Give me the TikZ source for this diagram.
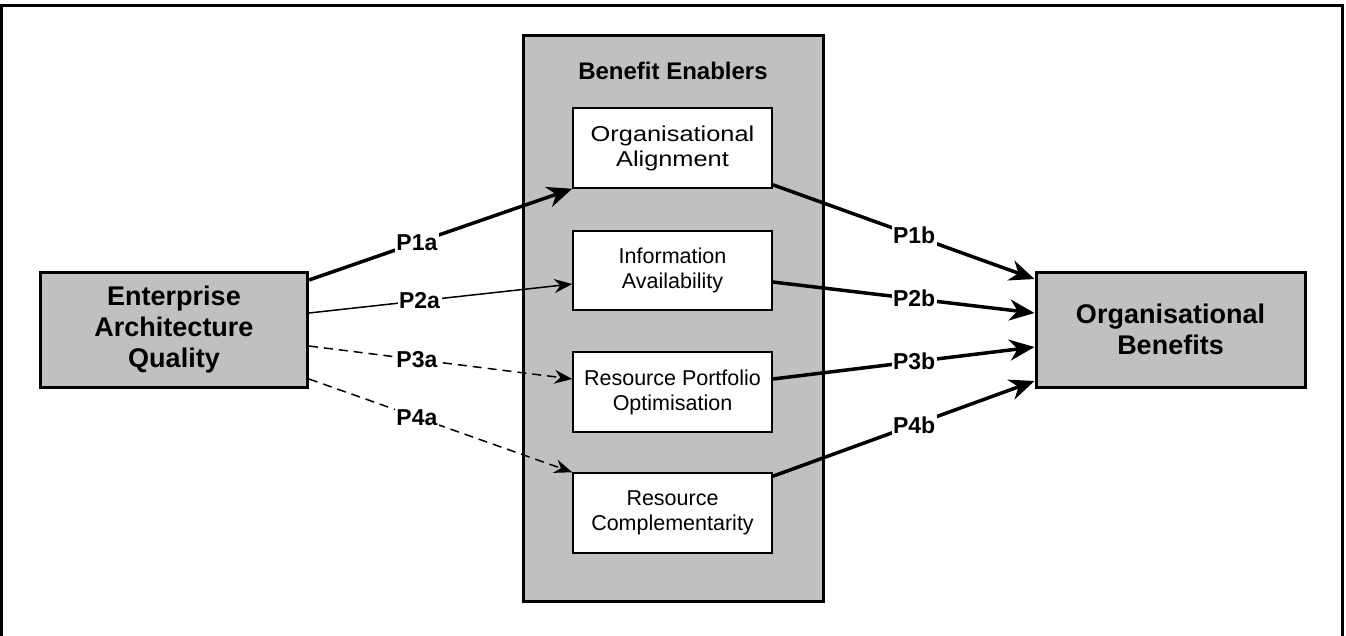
\documentclass[tikz,border=0pt]{standalone}
\usepackage{fontspec}
\setmainfont{Liberation Sans}
\usetikzlibrary{arrows.meta,calc}
\definecolor{boxgray}{RGB}{192,192,192}
\begin{document}
\begin{tikzpicture}[x=1pt,y=-1pt,
  outerbox/.style={draw, line width=3pt, fill=boxgray, align=center, inner sep=0pt,
    font=\fontsize{27}{31}\selectfont\bfseries},
  innerbox/.style={draw, line width=1.5pt, fill=white, minimum width=199pt, minimum height=80pt,
    align=center, inner sep=0pt, font=\fontsize{21.5}{25}\selectfont},
  thickarrow/.style={line width=3.5pt, -{Stealth[length=25pt,width=21pt,inset=8pt]}},
  thinarrow/.style={line width=1.5pt, -{Stealth[length=18pt,width=14pt,inset=6pt]}},
  dasharrow/.style={thinarrow, dash pattern=on 9pt off 6pt},
  plabel/.style={fill=white, inner sep=1.5pt, font=\fontsize{23}{23}\selectfont\bfseries}
]
\useasboundingbox (0,0) rectangle (1346,635);
\clip (0,0) rectangle (1346,635);
\fill[white] (0,0) rectangle (1346,635);
\draw[line width=3pt] (1.5,5) rectangle (1342.5,660);

\node[outerbox, minimum width=267pt, minimum height=115pt] (eaq) at (174,329.5) {Enterprise\\Architecture\\Quality};
\node[outerbox, minimum width=269pt, minimum height=115pt] (ob) at (1170.5,329.5) {Organisational\\Benefits};
\node[draw, line width=3pt, fill=boxgray, minimum width=300pt, minimum height=566pt, inner sep=0pt] (be) at (673,318) {};
\node[font=\fontsize{24}{24}\selectfont\bfseries, inner sep=0pt] (betitle) at (673,71) {Benefit Enablers};

\node[innerbox] (oa) at (672.5,148) {\scalebox{1.18}[1]{Organisational}\\\scalebox{1.18}[1]{Alignment}};
\node[innerbox, minimum height=79pt] (ia) at (672.5,270.5) {Information\\Availability};
\node[innerbox] (rpo) at (672.5,392) {Resource Portfolio\\Optimisation};
\node[innerbox] (rc) at (672.5,513) {Resource\\Complementarity};

% a-arrows
\draw[thickarrow] ($(eaq.east)+(0,-49.5)$) -- node[plabel, pos=0.41] (p1a) {P1a} (oa.south west);
\draw[thinarrow] ($(eaq.east)+(0,-16.5)$) -- node[plabel, pos=0.42] (p2a) {P2a} ($(ia.west)+(0,13.5)$);
\draw[dasharrow] ($(eaq.east)+(0,16.5)$) -- node[plabel, pos=0.41] (p3a) {P3a} ($(rpo.west)+(0,-13)$);
\draw[dasharrow] ($(eaq.east)+(0,49.5)$) -- node[plabel, pos=0.41] (p4a) {P4a} (rc.north west);

% b-arrows
\draw[thickarrow] ($(oa.south east)+(0,-4)$) -- node[plabel, pos=0.54] (p1b) {P1b} ($(ob.west)+(0,-50.5)$);
\draw[thickarrow] ($(ia.east)+(0,11.5)$) -- node[plabel, pos=0.54] (p2b) {P2b} ($(ob.west)+(0,-16.5)$);
\draw[thickarrow] ($(rpo.east)+(0,-13)$) -- node[plabel, pos=0.54] (p3b) {P3b} ($(ob.west)+(0,17.5)$);
\draw[thickarrow] ($(rc.north east)+(0,4)$) -- node[plabel, pos=0.54] (p4b) {P4b} ($(ob.west)+(0,51.5)$);
\end{tikzpicture}
\end{document}
